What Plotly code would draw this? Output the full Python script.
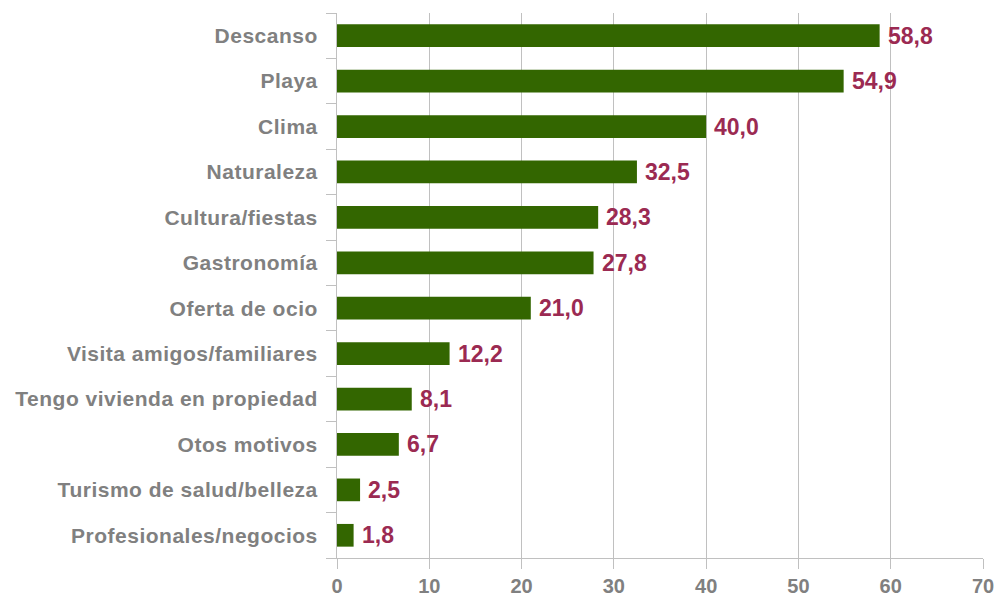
import plotly.graph_objects as go

categories = [
    "Descanso", "Playa", "Clima", "Naturaleza", "Cultura/fiestas", "Gastronomía",
    "Oferta de ocio", "Visita amigos/familiares", "Tengo vivienda en propiedad",
    "Otos motivos", "Turismo de salud/belleza", "Profesionales/negocios",
]
values = [58.8, 54.9, 40.0, 32.5, 28.3, 27.8, 21.0, 12.2, 8.1, 6.7, 2.5, 1.8]
x_ticks = [0, 10, 20, 30, 40, 50, 60, 70]

labels = [f"{v:.1f}".replace(".", ",") for v in values]

fig = go.Figure(go.Bar(
    y=categories, x=values, orientation="h",
    marker=dict(color="#336600", line=dict(width=0)),
    width=0.5,
    hoverinfo="x+y",
))

for cat, val, lab in zip(categories, values, labels):
    fig.add_annotation(
        x=val, y=cat, text=lab, showarrow=False,
        xanchor="left", yanchor="middle", xshift=6,
        font=dict(family="Liberation Sans", size=23, color="#9b2a52", weight="bold"),
    )

fig.update_layout(
    width=996, height=597,
    margin=dict(l=337, r=13, t=13, b=39, autoexpand=False),
    paper_bgcolor="white", plot_bgcolor="white",
    showlegend=False,
    font=dict(family="Liberation Sans", color="#808080"),
    xaxis=dict(
        range=[0, 70], tickvals=x_ticks, ticktext=[str(t) for t in x_ticks],
        showgrid=True, gridcolor="#c0c0c0", gridwidth=1,
        showline=True, linecolor="#c0c0c0", linewidth=1,
        ticks="outside", ticklen=10, tickcolor="#c0c0c0",
        tickfont=dict(family="Liberation Sans", size=20, color="#808080", weight="bold"),
        zeroline=False, fixedrange=True, automargin=False,
        ticklabeloverflow="allow",
    ),
    yaxis=dict(
        categoryorder="array", categoryarray=categories[::-1],
        autorange=False, range=[-0.5, len(categories) - 0.5],
        showline=True, linecolor="#c0c0c0", linewidth=1,
        ticks="outside", ticklen=10, tickcolor="#c0c0c0", tickson="boundaries",
        showgrid=False,
        tickfont=dict(family="Liberation Sans", size=21, color="#808080", weight="bold"),
        ticklabelstandoff=14, automargin=False,
        fixedrange=True,
    ),
)

post = """
document.body.style.margin = '0';
document.querySelectorAll('.ytick text').forEach(function(t){ t.style.letterSpacing = '0.5px'; });
"""

fig.write_html("out.html", post_script=post, config={"displayModeBar": False})
